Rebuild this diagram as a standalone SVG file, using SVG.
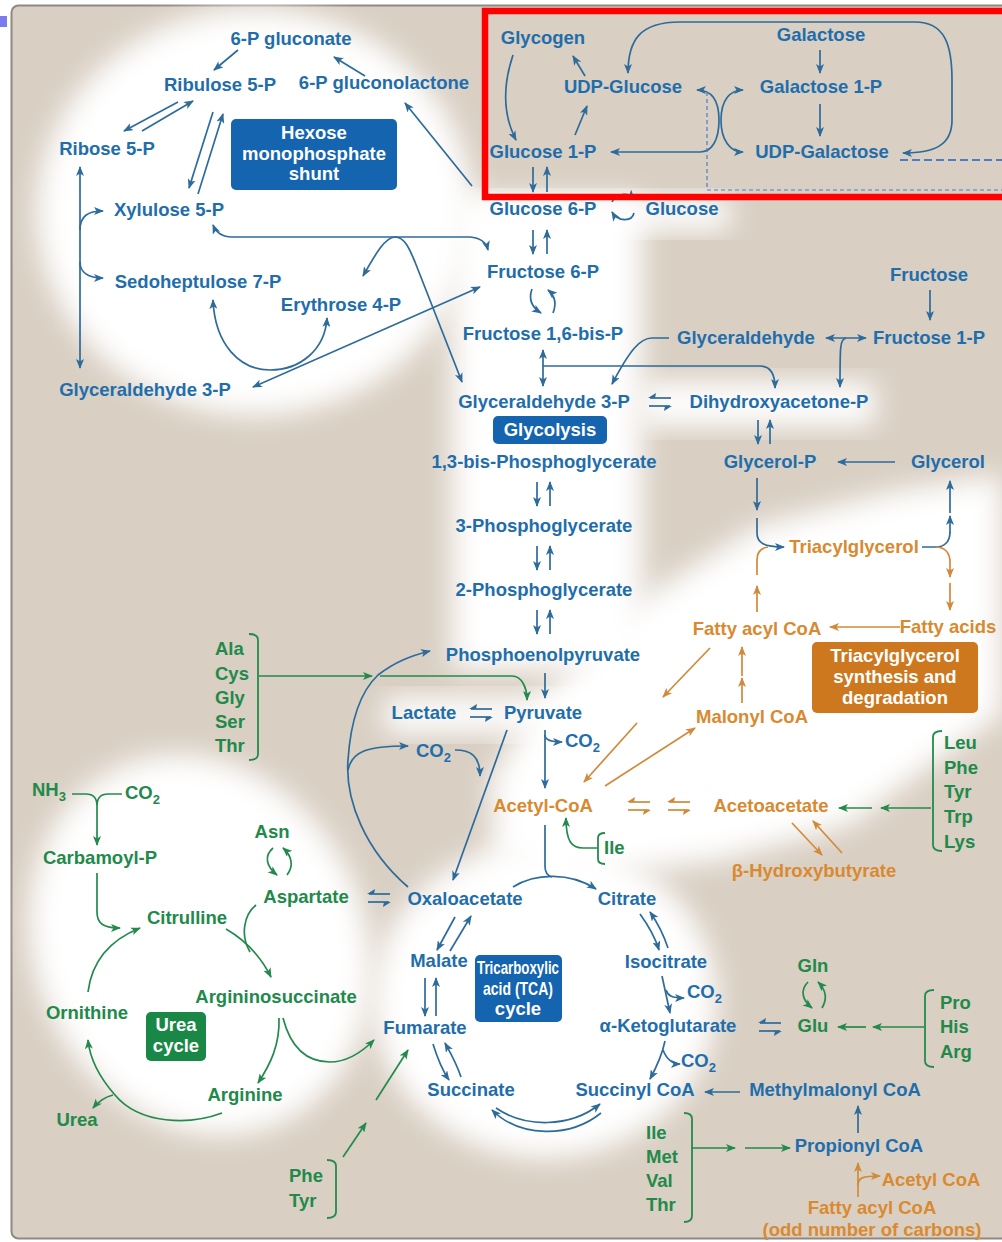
<svg xmlns="http://www.w3.org/2000/svg" xmlns:xlink="http://www.w3.org/1999/xlink" width="1002" height="1242" viewBox="0 0 1002 1242">
<style>
text{font-family:"Liberation Sans",Arial,Helvetica,sans-serif;font-weight:bold;font-size:18.5px}
.m{text-anchor:middle}
.b{fill:#1f6eab}.g{fill:#218a4b}.o{fill:#d98a30}.w{fill:#fff}
.sub{font-size:13px}
path,line{fill:none;stroke-width:1.7}
.cb{stroke:#2d6b9b}.cg{stroke:#238a4d}.co{stroke:#d08a3a}
.cb.e{marker-end:url(#ab)}.cb.s{marker-start:url(#ab)}
.cg.e{marker-end:url(#ag)}.cg.s{marker-start:url(#ag)}
.co.e{marker-end:url(#ao)}.co.s{marker-start:url(#ao)}
.br{stroke:#238a4d;stroke-width:1.8;fill:none}
.glow{fill:#fff;filter:url(#blur)}
</style>
<defs>
<filter id="blur" x="-30%" y="-30%" width="160%" height="160%"><feGaussianBlur stdDeviation="14"/></filter>
<marker id="ab" viewBox="0 0 10 8" refX="9" refY="4" markerWidth="10" markerHeight="8" markerUnits="userSpaceOnUse" orient="auto-start-reverse"><path d="M0,0 L10,4 L0,8 L2.5,4 z" style="fill:#2d6b9b;stroke:none"/></marker>
<marker id="ag" viewBox="0 0 10 8" refX="9" refY="4" markerWidth="10" markerHeight="8" markerUnits="userSpaceOnUse" orient="auto-start-reverse"><path d="M0,0 L10,4 L0,8 L2.5,4 z" style="fill:#238a4d;stroke:none"/></marker>
<marker id="ao" viewBox="0 0 10 8" refX="9" refY="4" markerWidth="10" markerHeight="8" markerUnits="userSpaceOnUse" orient="auto-start-reverse"><path d="M0,0 L10,4 L0,8 L2.5,4 z" style="fill:#d08a3a;stroke:none"/></marker>
<g id="hp">
<path d="M11,-4 L-10,-4" style="stroke:currentColor"/><path d="M-12,-4 L-4,-9 L-5,-4 z" style="fill:currentColor;stroke:none"/>
<path d="M-11,4 L10,4" style="stroke:currentColor"/><path d="M12,4 L4,9 L5,4 z" style="fill:currentColor;stroke:none"/>
</g>
</defs>

<!-- background -->
<rect x="0" y="0" width="1002" height="1242" fill="#ffffff"/>
<rect x="0" y="16" width="7" height="11" fill="#7b7bf0"/>
<rect x="11.5" y="5.5" width="1000" height="1233" rx="7" fill="#d9cfc3" stroke="#8d8a86" stroke-width="2"/>
<g id="glows">
<ellipse class="glow" cx="255" cy="212" rx="218" ry="203"/>
<rect class="glow" x="452" y="198" width="190" height="472"/>
<rect class="glow" x="470" y="198" width="260" height="32"/>
<rect class="glow" x="640" y="382" width="235" height="44"/>
<rect class="glow" x="385" y="697" width="240" height="36"/>
<polygon class="glow" points="490,780 540,700 640,600 760,525 900,490 1002,475 1002,715 930,765 850,825 720,860 560,880 495,860"/>
<ellipse class="glow" cx="200" cy="945" rx="165" ry="195" transform="rotate(-25 200 945)"/>
<ellipse class="glow" cx="545" cy="1000" rx="172" ry="158"/>
</g>

<!-- connectors -->
<g id="connectors">
<!-- HMP -->
<path class="cb e" d="M238,50 L214,70"/>
<path class="cb e" d="M365,76 L334,57"/>
<path class="cb e" d="M472,186 L405,103"/>
<path class="cb e" d="M178,102 L124,131"/>
<path class="cb e" d="M142,131 L193,101"/>
<path class="cb e" d="M213,112 L189,188"/>
<path class="cb e" d="M198,194 L223,114"/>
<path class="cb s e" d="M80,167 L80,368"/>
<path class="cb e" d="M80,230 C80,216 88,211 103,211"/>
<path class="cb e" d="M80,262 C80,272 88,278 103,278"/>
<path class="cb s e" d="M213,225 Q218,237 232,237 L470,237 Q485,238 488,250"/>
<path class="cb s e" d="M363,276 C375,255 385,237 395,237 C405,237 410,250 415,262 L462,382"/>
<path class="cb s e" d="M213,300 C215,345 240,370 270,370 C300,370 325,350 327,318"/>
<path class="cb s e" d="M480,287 L253,387"/>
<!-- galactose -->
<path class="cb e" d="M513,55 C503,85 503,115 516,140"/>
<path class="cb e" d="M585,76 L573,56"/>
<path class="cb e" d="M575,135 L587,106"/>
<path class="cb e" d="M820,50 L820,73"/>
<path class="cb e" d="M820,104 L820,136"/>
<path class="cb s e" d="M628,73 C628,40 640,22 680,22 L915,22 C945,22 952,45 952,80 L952,120 C952,145 935,153 903,153"/>
<path class="cb s e" d="M697,90 C712,90 719,100 719,120 C719,140 712,152 700,152 L611,152"/>
<path class="cb s e" d="M743,90 C730,90 721,100 721,120 C721,140 730,152 743,152"/>
<path d="M707,92 L707,190 L1002,190" style="stroke:#4a7fc8;stroke-width:1.2;stroke-dasharray:4 3"/>
<path d="M900,160 L1002,160" style="stroke:#4a7fc8;stroke-width:2;stroke-dasharray:8 4"/>
<!-- glycolysis -->
<path class="cb e" d="M533,167 L533,192"/>
<path class="cb e" d="M547,192 L547,167"/>
<path class="cb e" d="M612,202 C616,193 628,192 634,199"/>
<path class="cb e" d="M634,213 C632,222 618,222 612,212"/>
<path class="cb e" d="M533,230 L533,254"/>
<path class="cb e" d="M547,254 L547,230"/>
<path class="cb e" d="M532,289 C528,300 533,308 541,313"/>
<path class="cb e" d="M553,313 C557,303 554,295 548,290"/>
<path class="cb s e" d="M543,350 L543,386"/>
<path class="cb e" d="M543,366 L760,366 C770,366 775,374 775,388"/>
<path class="cb e" d="M669,338 L652,338 C640,338 630,350 612,384"/>
<path class="cb s e" d="M826,338 L866,338"/>
<path class="cb e" d="M846,338 C840,340 840,345 840,387"/>
<path class="cb e" d="M930,290 L930,320"/>
<use href="#hp" xlink:href="#hp" transform="translate(660,402)" color="#2d6b9b"/>
<path class="cb e" d="M758,420 L758,444"/>
<path class="cb e" d="M770,444 L770,420"/>
<path class="cb e" d="M895,462 L838,462"/>
<path class="cb e" d="M757,478 L757,510"/>
<path class="cb e" d="M757,518 L757,533 C757,543 764,547 784,547"/>
<path class="co" d="M757,575 L757,560 C757,552 761,548 768,547"/>
<path class="co e" d="M757,612 L757,586"/>
<path class="cb" d="M922,547 L936,547 C944,547 950,542 950,532"/>
<path class="cb e" d="M950,533 L950,516"/>
<path class="cb e" d="M950,513 L950,481"/>
<path class="co e" d="M936,547 C944,547 950,552 950,562 L950,577"/>
<path class="co e" d="M950,583 L950,610"/>
<path class="cb e" d="M537,482 L537,506"/>
<path class="cb e" d="M550,506 L550,482"/>
<path class="cb e" d="M537,546 L537,570"/>
<path class="cb e" d="M550,570 L550,546"/>
<path class="cb e" d="M537,610 L537,634"/>
<path class="cb e" d="M550,634 L550,610"/>
<!-- fatty acids -->
<path class="co e" d="M900,627 L830,627"/>
<path class="co e" d="M742,703 L742,678"/>
<path class="co e" d="M742,676 L742,647"/>
<path class="co e" d="M710,648 L663,697"/>
<path class="co e" d="M637,723 L584,782"/>
<path class="co e" d="M605,786 L695,728"/>
<use href="#hp" xlink:href="#hp" transform="translate(639,806)" color="#d08a3a"/>
<use href="#hp" xlink:href="#hp" transform="translate(679,806)" color="#d08a3a"/>
<path class="co e" d="M792,823 L822,855"/>
<path class="co e" d="M842,853 L813,821"/>
<path class="cg e" d="M931,808 L881,808"/>
<path class="cg e" d="M872,808 L839,808"/>
<path class="cg e" d="M597,848 L583,848 C572,848 566,842 566,818"/>
<!-- pyruvate -->
<path class="cb e" d="M545,673 L545,698"/>
<use href="#hp" xlink:href="#hp" transform="translate(481,713)" color="#2d6b9b"/>
<path class="cb e" d="M545,730 L545,788"/>
<path class="cb e" d="M545,735 C545,740 550,742 562,742"/>
<path class="cb" d="M545,825 L545,866 C545,872 548,876 552,877"/>
<path class="cb e" d="M513,887 C535,873 570,872 596,889"/>
<path class="cb e" d="M507,730 L453,880"/>
<path class="cb e" d="M408,887 C365,850 345,800 348,760 C351,715 362,690 378,675 C395,662 410,656 430,651"/>
<path class="cb e" d="M348,770 C352,752 365,746 408,746"/>
<path class="cb e" d="M455,750 C470,750 480,755 480,776"/>
<path class="cg e" d="M259,676 L372,676"/>
<path class="cg e" d="M380,676 L512,676 C522,676 527,688 527,700"/>
<!-- TCA -->
<path class="cb e" d="M455,917 L437,950"/>
<path class="cb e" d="M450,951 L471,916"/>
<path class="cb e" d="M425,978 L425,1016"/>
<path class="cb e" d="M436,1016 L436,978"/>
<path class="cb e" d="M433,1044 C438,1060 442,1070 449,1080"/>
<path class="cb e" d="M461,1077 C456,1062 450,1052 445,1043"/>
<path class="cb e" d="M496,1108 C525,1128 570,1128 600,1104"/>
<path class="cb e" d="M601,1113 C570,1138 520,1138 492,1110"/>
<path class="cb e" d="M640,914 C648,925 655,937 659,950"/>
<path class="cb e" d="M668,948 C663,933 657,922 650,912"/>
<path class="cb e" d="M662,976 L670,1013"/>
<path class="cb e" d="M666,990 C668,996 672,998 684,998"/>
<path class="cb e" d="M665,1041 C662,1055 656,1068 650,1079"/>
<path class="cb e" d="M663,1050 C667,1060 672,1064 680,1064"/>
<path class="cb e" d="M740,1092 L705,1092"/>
<path class="cb e" d="M858,1133 L858,1106"/>
<path class="co e" d="M858,1197 L858,1163"/>
<path class="co e" d="M858,1185 C858,1178 862,1176 880,1176"/>
<path class="cg e" d="M692,1148 L735,1148"/>
<path class="cg e" d="M745,1148 L790,1148"/>
<use href="#hp" xlink:href="#hp" transform="translate(770,1027)" color="#2d6b9b"/>
<path class="cg e" d="M808,982 C800,990 802,1000 812,1008"/>
<path class="cg e" d="M822,1008 C828,998 826,990 818,982"/>
<path class="cg e" d="M924,1027 L873,1027"/>
<path class="cg e" d="M866,1027 L838,1027"/>
<!-- urea -->
<use href="#hp" xlink:href="#hp" transform="translate(379,898)" color="#2d6b9b"/>
<path class="cg e" d="M273,848 C264,856 266,866 277,875"/>
<path class="cg e" d="M287,875 C294,866 292,856 283,848"/>
<path class="cg" d="M256,905 C244,915 240,935 250,952"/>
<path class="cg e" d="M226,929 C245,940 260,955 271,977"/>
<path class="cg e" d="M279,1018 C280,1045 270,1065 258,1083"/>
<path class="cg e" d="M283,1018 C290,1045 305,1062 330,1062 C348,1062 362,1052 374,1040"/>
<path class="cg e" d="M222,1113 C190,1125 140,1125 115,1095 C100,1078 90,1060 88,1040"/>
<path class="cg e" d="M113,1095 C105,1097 98,1102 93,1108"/>
<path class="cg e" d="M88,992 C92,960 110,940 140,928"/>
<path class="cg e" d="M97,873 L97,912 C97,924 104,928 120,928"/>
<path class="cg" d="M72,794 L86,794 C93,794 97,798 97,806 M122,794 L108,794 C101,794 97,798 97,806"/>
<path class="cg e" d="M97,806 L97,845"/>
<path class="cg e" d="M343,1157 L366,1123"/>
<path class="cg e" d="M376,1100 L408,1050"/>
<!-- brackets -->
<path class="br" d="M249,634 Q258,634 258,640 L258,754 Q258,760 249,760"/>
<path class="br" d="M942,731 Q933,731 933,737 L933,845 Q933,851 942,851"/>
<path class="br" d="M605,833 Q598,833 598,838 L598,859 Q598,864 605,864"/>
<path class="br" d="M684,1113 Q692,1113 692,1119 L692,1216 Q692,1222 684,1222"/>
<path class="br" d="M934,990 Q925,990 925,996 L925,1061 Q925,1067 934,1067"/>
<path class="br" d="M327,1160 Q336,1160 336,1166 L336,1212 Q336,1218 327,1218"/>
</g>

<!-- label boxes -->
<g id="box-hmp"><rect x="231" y="119" width="166" height="71" rx="5" fill="#1464af"/>
<text class="w m" x="314" y="139">Hexose</text><text class="w m" x="314" y="160">monophosphate</text><text class="w m" x="314" y="180">shunt</text></g>
<g id="box-glycolysis"><rect x="493" y="416" width="114" height="28" rx="5" fill="#1464af"/><text class="w m" x="550" y="436">Glycolysis</text></g>
<g id="box-tag"><rect x="812" y="642" width="166" height="71" rx="5" fill="#cd781e"/>
<text class="w m" x="895" y="662">Triacylglycerol</text><text class="w m" x="895" y="683">synthesis and</text><text class="w m" x="895" y="704">degradation</text></g>
<g id="box-tca"><rect x="475" y="955" width="87" height="67" rx="5" fill="#1464af"/>
<text class="w m" x="518" y="974" textLength="82" lengthAdjust="spacingAndGlyphs">Tricarboxylic</text><text class="w m" x="518" y="995" textLength="70" lengthAdjust="spacingAndGlyphs">acid (TCA)</text><text class="w m" x="518" y="1015">cycle</text></g>
<g id="box-urea"><rect x="146" y="1012" width="60" height="49" rx="5" fill="#198746"/>
<text class="w m" x="176" y="1031">Urea</text><text class="w m" x="176" y="1052">cycle</text></g>

<!-- nodes -->
<g id="n-6pgluconate"><text class="b m" x="291" y="45">6-P gluconate</text></g>
<g id="n-ribulose5p"><text class="b m" x="220" y="91">Ribulose 5-P</text></g>
<g id="n-6pgluconolactone"><text class="b m" x="384" y="89">6-P gluconolactone</text></g>
<g id="n-ribose5p"><text class="b m" x="107" y="155">Ribose 5-P</text></g>
<g id="n-xylulose5p"><text class="b m" x="169" y="216">Xylulose 5-P</text></g>
<g id="n-sedoheptulose7p"><text class="b m" x="198" y="288">Sedoheptulose 7-P</text></g>
<g id="n-erythrose4p"><text class="b m" x="341" y="311">Erythrose 4-P</text></g>
<g id="n-g3p-hmp"><text class="b m" x="145" y="396">Glyceraldehyde 3-P</text></g>
<g id="n-glycogen"><text class="b m" x="543" y="44">Glycogen</text></g>
<g id="n-galactose"><text class="b m" x="821" y="41">Galactose</text></g>
<g id="n-udpglucose"><text class="b m" x="623" y="93">UDP-Glucose</text></g>
<g id="n-galactose1p"><text class="b m" x="821" y="93">Galactose 1-P</text></g>
<g id="n-glucose1p"><text class="b m" x="543" y="158">Glucose 1-P</text></g>
<g id="n-udpgalactose"><text class="b m" x="822" y="158">UDP-Galactose</text></g>
<g id="n-glucose6p"><text class="b m" x="543" y="215">Glucose 6-P</text></g>
<g id="n-glucose"><text class="b m" x="682" y="215">Glucose</text></g>
<g id="n-fructose6p"><text class="b m" x="543" y="278">Fructose 6-P</text></g>
<g id="n-fructose16bp"><text class="b m" x="543" y="340">Fructose 1,6-bis-P</text></g>
<g id="n-g3p"><text class="b m" x="544" y="408">Glyceraldehyde 3-P</text></g>
<g id="n-13bpg"><text class="b m" x="544" y="468">1,3-bis-Phosphoglycerate</text></g>
<g id="n-3pg"><text class="b m" x="544" y="532">3-Phosphoglycerate</text></g>
<g id="n-2pg"><text class="b m" x="544" y="596">2-Phosphoglycerate</text></g>
<g id="n-pep"><text class="b m" x="543" y="661">Phosphoenolpyruvate</text></g>
<g id="n-lactate"><text class="b m" x="424" y="719">Lactate</text></g>
<g id="n-pyruvate"><text class="b m" x="543" y="719">Pyruvate</text></g>
<g id="n-co2-pyr"><text class="b" x="565" y="747">CO<tspan class="sub" dy="5">2</tspan></text></g>
<g id="n-co2-left"><text class="b" x="416" y="757">CO<tspan class="sub" dy="5">2</tspan></text></g>
<g id="n-fructose"><text class="b m" x="929" y="281">Fructose</text></g>
<g id="n-glyceraldehyde"><text class="b m" x="746" y="344">Glyceraldehyde</text></g>
<g id="n-fructose1p"><text class="b m" x="929" y="344">Fructose 1-P</text></g>
<g id="n-dhap"><text class="b m" x="779" y="408">Dihydroxyacetone-P</text></g>
<g id="n-glycerolp"><text class="b m" x="770" y="468">Glycerol-P</text></g>
<g id="n-glycerol"><text class="b m" x="948" y="468">Glycerol</text></g>
<g id="n-tag"><text class="o m" x="854" y="553">Triacylglycerol</text></g>
<g id="n-fattyacylcoa"><text class="o m" x="757" y="635">Fatty acyl CoA</text></g>
<g id="n-fattyacids"><text class="o m" x="948" y="633">Fatty acids</text></g>
<g id="n-malonylcoa"><text class="o m" x="752" y="723">Malonyl CoA</text></g>
<g id="n-acetylcoa"><text class="o m" x="543" y="812">Acetyl-CoA</text></g>
<g id="n-acetoacetate"><text class="o m" x="771" y="812">Acetoacetate</text></g>
<g id="n-bhb"><text class="o m" x="814" y="877">β-Hydroxybutyrate</text></g>
<g id="n-leu"><text class="g" x="944" y="749">Leu</text><text class="g" x="944" y="774">Phe</text><text class="g" x="944" y="798">Tyr</text><text class="g" x="944" y="823">Trp</text><text class="g" x="944" y="848">Lys</text></g>
<g id="n-ile1"><text class="g" x="604" y="854">Ile</text></g>
<g id="n-ala"><text class="g" x="215" y="655">Ala</text><text class="g" x="215" y="680">Cys</text><text class="g" x="215" y="704">Gly</text><text class="g" x="215" y="728">Ser</text><text class="g" x="215" y="752">Thr</text></g>
<g id="n-oxaloacetate"><text class="b m" x="465" y="905">Oxaloacetate</text></g>
<g id="n-citrate"><text class="b m" x="627" y="905">Citrate</text></g>
<g id="n-malate"><text class="b m" x="439" y="967">Malate</text></g>
<g id="n-isocitrate"><text class="b m" x="666" y="968">Isocitrate</text></g>
<g id="n-co2-iso"><text class="b" x="687" y="998">CO<tspan class="sub" dy="5">2</tspan></text></g>
<g id="n-fumarate"><text class="b m" x="425" y="1034">Fumarate</text></g>
<g id="n-akg"><text class="b m" x="668" y="1032">α-Ketoglutarate</text></g>
<g id="n-co2-akg"><text class="b" x="681" y="1067">CO<tspan class="sub" dy="5">2</tspan></text></g>
<g id="n-succinate"><text class="b m" x="471" y="1096">Succinate</text></g>
<g id="n-succinylcoa"><text class="b m" x="635" y="1096">Succinyl CoA</text></g>
<g id="n-methylmalonylcoa"><text class="b m" x="835" y="1096">Methylmalonyl CoA</text></g>
<g id="n-propionylcoa"><text class="b m" x="859" y="1152">Propionyl CoA</text></g>
<g id="n-acetylcoa2"><text class="o m" x="931" y="1186">Acetyl CoA</text></g>
<g id="n-fattyacylcoa-odd"><text class="o m" x="872" y="1214">Fatty acyl CoA</text><text class="o m" x="872" y="1236">(odd number of carbons)</text></g>
<g id="n-ile2"><text class="g" x="646" y="1139">Ile</text><text class="g" x="646" y="1163">Met</text><text class="g" x="646" y="1187">Val</text><text class="g" x="646" y="1211">Thr</text></g>
<g id="n-gln"><text class="g m" x="813" y="972">Gln</text></g>
<g id="n-glu"><text class="g m" x="813" y="1032">Glu</text></g>
<g id="n-pro"><text class="g" x="940" y="1009">Pro</text><text class="g" x="940" y="1033">His</text><text class="g" x="940" y="1058">Arg</text></g>
<g id="n-asn"><text class="g m" x="272" y="838">Asn</text></g>
<g id="n-aspartate"><text class="g m" x="306" y="903">Aspartate</text></g>
<g id="n-nh3"><text class="g" x="32" y="796">NH<tspan class="sub" dy="5">3</tspan></text></g>
<g id="n-co2-urea"><text class="g" x="125" y="799">CO<tspan class="sub" dy="5">2</tspan></text></g>
<g id="n-carbamoylp"><text class="g m" x="100" y="864">Carbamoyl-P</text></g>
<g id="n-citrulline"><text class="g m" x="187" y="924">Citrulline</text></g>
<g id="n-argininosuccinate"><text class="g m" x="276" y="1003">Argininosuccinate</text></g>
<g id="n-ornithine"><text class="g m" x="87" y="1019">Ornithine</text></g>
<g id="n-arginine"><text class="g m" x="245" y="1101">Arginine</text></g>
<g id="n-urea"><text class="g m" x="77" y="1126">Urea</text></g>
<g id="n-phetyr"><text class="g" x="289" y="1182">Phe</text><text class="g" x="289" y="1207">Tyr</text></g>

<!-- highlight box -->
<rect x="485" y="11" width="530" height="186" fill="none" stroke="#ff0000" stroke-width="6.5"/>
</svg>
